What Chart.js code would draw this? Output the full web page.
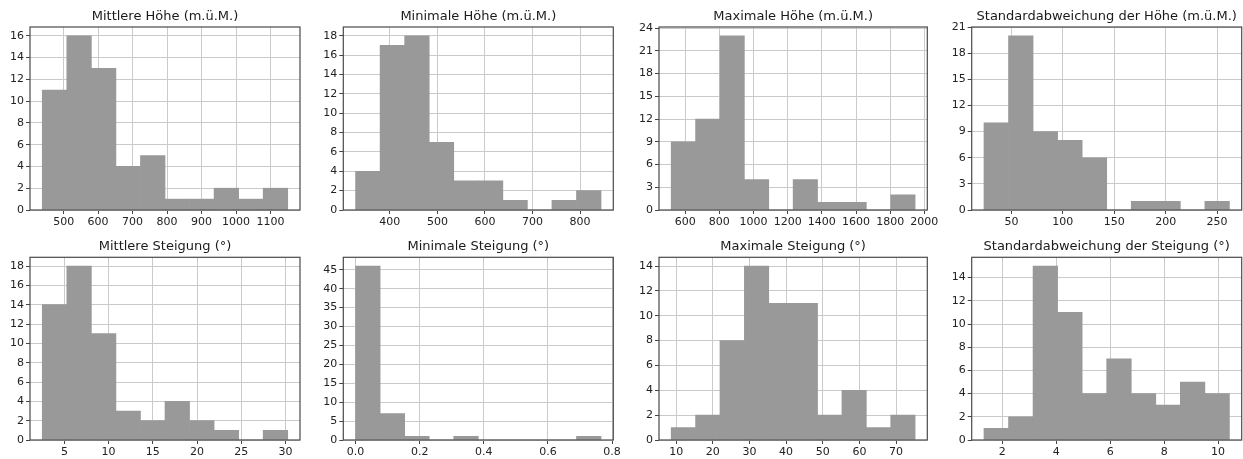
<!DOCTYPE html>
<html>
<head>
<meta charset="utf-8">
<script src="https://cdn.jsdelivr.net/npm/chart.js@4"></script>
<style>
html, body { margin: 0; padding: 0; background: #fff; }
#wrap { position: relative; width: 1243px; height: 459px; }
#wrap canvas { position: absolute; left: 0; top: 0; }
</style>
</head>
<body>
<div id="wrap"></div>
<script>
// counts per bin (10 bins each)
const hoeheMittelCounts = [11, 16, 13, 4, 5, 1, 1, 2, 1, 2]
const hoeheMinCounts = [4, 17, 18, 7, 3, 3, 1, 0, 1, 2]
const hoeheMaxCounts = [9, 12, 23, 4, 0, 4, 1, 1, 0, 2]
const hoeheStdCounts = [10, 20, 9, 8, 6, 0, 1, 1, 0, 1]
const steigMittelCounts = [14, 18, 11, 3, 2, 4, 2, 1, 0, 1]
const steigMinCounts = [46, 7, 1, 0, 1, 0, 0, 0, 0, 1]
const steigMaxCounts = [1, 2, 8, 14, 11, 11, 2, 4, 1, 2]
const steigStdCounts = [1, 2, 15, 11, 4, 7, 4, 3, 5, 4]

// first and last bin edge
const hoeheMittelRange = [438, 1150]
const hoeheMinRange = [328, 844]
const hoeheMaxRange = [518, 1946]
const hoeheStdRange = [23.3, 262]
const steigMittelRange = [2.5, 30.26]
const steigMinRange = [0, 0.7655]
const steigMaxRange = [8.64, 75.2]
const steigStdRange = [1.32, 10.42]

// tick values
const hoeheMittelXTicks = [500, 600, 700, 800, 900, 1000, 1100]
const hoeheMinXTicks = [400, 500, 600, 700, 800]
const hoeheMaxXTicks = [600, 800, 1000, 1200, 1400, 1600, 1800, 2000]
const hoeheStdXTicks = [50, 100, 150, 200, 250]
const steigMittelXTicks = [5, 10, 15, 20, 25, 30]
const steigMinXTicks = [0, 0.2, 0.4, 0.6, 0.8]
const steigMinXLabels = ['0.0', '0.2', '0.4', '0.6', '0.8']
const steigMaxXTicks = [10, 20, 30, 40, 50, 60, 70]
const steigStdXTicks = [2, 4, 6, 8, 10]

const yTicksBy2_16 = [0, 2, 4, 6, 8, 10, 12, 14, 16]
const yTicksBy2_18 = [0, 2, 4, 6, 8, 10, 12, 14, 16, 18]
const yTicksBy3_24 = [0, 3, 6, 9, 12, 15, 18, 21, 24]
const yTicksBy3_21 = [0, 3, 6, 9, 12, 15, 18, 21]
const yTicksBy5_45 = [0, 5, 10, 15, 20, 25, 30, 35, 40, 45]
const yTicksBy2_14 = [0, 2, 4, 6, 8, 10, 12, 14]

// plot area of each panel in page pixels: left, top, right, bottom
const plotBoxes = [
    [30, 27, 300, 210],
    [343.3, 27, 613.3, 210],
    [659, 27, 927.3, 210],
    [971.7, 27, 1241.7, 210],
    [30, 257.3, 300, 440],
    [343.3, 257.3, 613.3, 440],
    [659, 257.3, 927.3, 440],
    [971.7, 257.3, 1241.7, 440]
]

const W = 1243, H = 459
const FONT = "'DejaVu Sans', sans-serif"

const frame = {
    id: 'frame',
    afterDraw(chart) {
        const ctx = chart.ctx, a = chart.chartArea
        ctx.save()
        ctx.strokeStyle = '#4a4a4a'
        ctx.lineWidth = 1.2
        ctx.strokeRect(a.left, a.top, a.right - a.left, a.bottom - a.top)
        ctx.restore()
    }
}

function makeHist(idx, title, counts, range, xTicks, xLabels, yTicks) {
    const box = plotBoxes[idx]
    const cv = document.createElement('canvas')
    cv.width = W
    cv.height = H
    cv.style.width = W + 'px'
    cv.style.height = H + 'px'
    document.getElementById('wrap').appendChild(cv)

    const binW = (range[1] - range[0]) / counts.length
    const points = counts.map((c, i) => ({ x: range[0] + binW * (i + 0.5), y: c }))
    const margin = (range[1] - range[0]) * 0.05
    const ymax = Math.max(...counts) * 1.05

    new Chart(cv, {
        type: 'bar',
        data: {
            datasets: [{
                data: points,
                backgroundColor: '#999999',
                borderWidth: 0,
                barPercentage: 1,
                categoryPercentage: 1
            }]
        },
        options: {
            responsive: false,
            animation: false,
            events: [],
            layout: {
                padding: { left: 0, top: box[1] - 27, right: W - box[2], bottom: H - box[3] - 15 }
            },
            plugins: {
                legend: { display: false },
                tooltip: { enabled: false },
                title: {
                    display: true,
                    text: title,
                    fullSize: false,
                    color: '#1a1a1a',
                    font: { family: FONT, size: 13, weight: 'normal', lineHeight: 1.2 },
                    padding: { top: 8.4, bottom: 3 }
                }
            },
            scales: {
                x: {
                    type: 'linear',
                    min: range[0] - margin,
                    max: range[1] + margin,
                    offset: false,
                    z: 1,
                    border: { display: false },
                    grid: { offset: false, color: '#cacaca', tickColor: '#444', tickLength: 4 },
                    ticks: {
                        color: '#222',
                        font: { family: FONT, size: 11 },
                        padding: 2,
                        maxRotation: 0,
                        autoSkip: false,
                        callback: (v, i) => xLabels ? xLabels[i] : String(xTicks[i])
                    },
                    afterBuildTicks: s => { s.ticks = xTicks.map(v => ({ value: v })) },
                    afterFit: s => { s.height = 15; s.paddingLeft = 0; s.paddingRight = 0 }
                },
                y: {
                    min: 0,
                    max: ymax,
                    z: 1,
                    border: { display: false },
                    grid: { color: '#cacaca', tickColor: '#444', tickLength: 4 },
                    ticks: {
                        color: '#222',
                        font: { family: FONT, size: 11 },
                        padding: 2,
                        autoSkip: false,
                        callback: (v, i) => String(yTicks[i])
                    },
                    afterBuildTicks: s => { s.ticks = yTicks.map(v => ({ value: v })) },
                    afterFit: s => { s.width = box[0]; s.paddingTop = 0; s.paddingBottom = 0 }
                }
            }
        },
        plugins: [frame]
    })
}

makeHist(0, 'Mittlere Höhe (m.ü.M.)', hoeheMittelCounts, hoeheMittelRange, hoeheMittelXTicks, null, yTicksBy2_16)
makeHist(1, 'Minimale Höhe (m.ü.M.)', hoeheMinCounts, hoeheMinRange, hoeheMinXTicks, null, yTicksBy2_18)
makeHist(2, 'Maximale Höhe (m.ü.M.)', hoeheMaxCounts, hoeheMaxRange, hoeheMaxXTicks, null, yTicksBy3_24)
makeHist(3, 'Standardabweichung der Höhe (m.ü.M.)', hoeheStdCounts, hoeheStdRange, hoeheStdXTicks, null, yTicksBy3_21)
makeHist(4, 'Mittlere Steigung (°)', steigMittelCounts, steigMittelRange, steigMittelXTicks, null, yTicksBy2_18)
makeHist(5, 'Minimale Steigung (°)', steigMinCounts, steigMinRange, steigMinXTicks, steigMinXLabels, yTicksBy5_45)
makeHist(6, 'Maximale Steigung (°)', steigMaxCounts, steigMaxRange, steigMaxXTicks, null, yTicksBy2_14)
makeHist(7, 'Standardabweichung der Steigung (°)', steigStdCounts, steigStdRange, steigStdXTicks, null, yTicksBy2_14)
</script>
</body>
</html>
